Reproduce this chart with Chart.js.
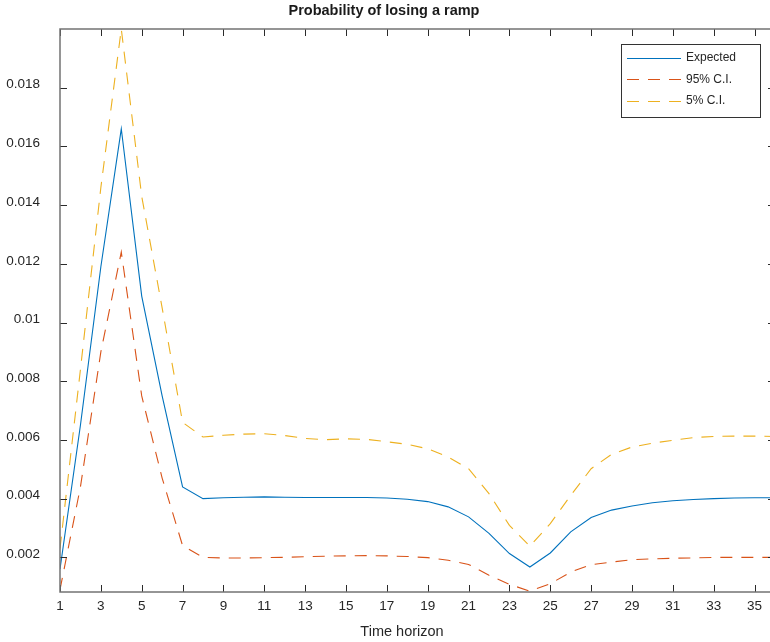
<!DOCTYPE html>
<html>
<head>
<meta charset="utf-8">
<script src="https://cdn.jsdelivr.net/npm/chart.js@4/dist/chart.umd.min.js"></script>
<style>
  html, body { margin: 0; padding: 0; background: #fff; overflow: hidden; }
  #wrap { width: 780px; height: 642px; }
</style>
</head>
<body>
<div id="wrap"><canvas id="rampChart" width="780" height="642"></canvas></div>
<script>
const horizon = [1, 2, 3, 4, 5, 6, 7, 8, 9, 10, 11, 12, 13, 14, 15, 16, 17, 18,
  19, 20, 21, 22, 23, 24, 25, 26, 27, 28, 29, 30, 31, 32, 33, 34, 35, 36];

const expected = [0.0016, 0.0065, 0.0119, 0.0166, 0.0109, 0.0075, 0.0044, 0.0040,
  0.00403, 0.00405, 0.00406, 0.00405, 0.00404, 0.00404, 0.00404, 0.00404, 0.00402, 0.00398,
  0.0039, 0.00372, 0.00338, 0.00282, 0.00213, 0.00167, 0.00215, 0.00287, 0.00336,
  0.00361, 0.00375, 0.00386, 0.00393, 0.00397, 0.004, 0.00402, 0.00403, 0.00403];

const ci95 = [0.0009, 0.0044, 0.0090, 0.0124, 0.0075, 0.0047, 0.0024, 0.0020,
  0.00198, 0.00198, 0.00199, 0.002, 0.00202, 0.00204, 0.00205, 0.00206, 0.00205, 0.00203,
  0.00199, 0.0019, 0.00176, 0.00139, 0.00108, 0.00085, 0.0011, 0.0015, 0.00175,
  0.00184, 0.00192, 0.00195, 0.00197, 0.00198, 0.002, 0.002, 0.002, 0.002];

const ci5 = [0.0023, 0.0084, 0.0146, 0.0200, 0.0143, 0.0105, 0.0066, 0.0061,
  0.00616, 0.0062, 0.00621, 0.00615, 0.00605, 0.00601, 0.00604, 0.00602, 0.00594, 0.00585,
  0.0057, 0.00542, 0.00502, 0.00417, 0.00309, 0.00238, 0.00315, 0.00411, 0.00502,
  0.00551, 0.00576, 0.00589, 0.00599, 0.00608, 0.00612, 0.00613, 0.00613, 0.00612];

const xTicks = [1, 3, 5, 7, 9, 11, 13, 15, 17, 19, 21, 23, 25, 27, 29, 31, 33, 35];
const yTicks = [0.002, 0.004, 0.006, 0.008, 0.01, 0.012, 0.014, 0.016, 0.018];

const FONT = "'Liberation Sans', Arial, Helvetica, sans-serif";

const toPoints = (vals) => vals.map((v, i) => ({ x: horizon[i], y: v }));

// box, inward ticks, legend and labels, matlab style
const matlabFrame = {
  id: "matlabFrame",
  afterDraw(chart) {
    const { ctx, chartArea: a, scales } = chart;
    const tl = 7;
    ctx.save();
    ctx.strokeStyle = "#2b2b2b";
    ctx.lineWidth = 1;
    ctx.beginPath();
    xTicks.forEach((t) => {
      const px = Math.round(scales.x.getPixelForValue(t)) + 0.5;
      ctx.moveTo(px, a.bottom); ctx.lineTo(px, a.bottom - tl);
      ctx.moveTo(px, a.top); ctx.lineTo(px, a.top + tl);
    });
    yTicks.forEach((t) => {
      const py = Math.round(scales.y.getPixelForValue(t)) + 0.5;
      ctx.moveTo(a.left, py); ctx.lineTo(a.left + tl, py);
      ctx.moveTo(a.right, py); ctx.lineTo(a.right - tl, py);
    });
    ctx.stroke();

    ctx.strokeStyle = "#737373";
    ctx.lineWidth = 1.5;
    ctx.strokeRect(a.left, a.top, a.right - a.left, a.bottom - a.top);

    // legend
    const lx = 621, ly = 44, lw = 139, lh = 73;
    ctx.fillStyle = "#fff";
    ctx.fillRect(lx, ly, lw, lh);
    ctx.strokeStyle = "#333";
    ctx.lineWidth = 1;
    ctx.strokeRect(lx + 0.5, ly + 0.5, lw, lh);
    ctx.font = "12px " + FONT;
    ctx.textBaseline = "middle";
    ctx.textAlign = "left";
    chart.data.datasets.forEach((ds, i) => {
      const cy = ly + 13.5 + i * 21.7;
      ctx.strokeStyle = ds.borderColor;
      ctx.lineWidth = 1;
      ctx.setLineDash(ds.borderDash || []);
      ctx.beginPath();
      ctx.moveTo(lx + 6, Math.round(cy) + 0.5);
      ctx.lineTo(lx + 60, Math.round(cy) + 0.5);
      ctx.stroke();
      ctx.setLineDash([]);
      ctx.fillStyle = "#262626";
      ctx.fillText(ds.label, lx + 65, cy);
    });

    // title and axis label
    ctx.fillStyle = "#1a1a1a";
    ctx.textAlign = "center";
    ctx.font = "bold 14.5px " + FONT;
    ctx.fillText("Probability of losing a ramp", 384, 11);
    ctx.fillStyle = "#262626";
    ctx.font = "14.5px " + FONT;
    ctx.fillText("Time horizon", 402, 632);
    ctx.restore();
  },
};

new Chart(document.getElementById("rampChart"), {
  type: "line",
  data: {
    datasets: [
      {
        label: "Expected",
        data: toPoints(expected),
        borderColor: "#0072BD",
        borderWidth: 1.1,
      },
      {
        label: "95% C.I.",
        data: toPoints(ci95),
        borderColor: "#D95319",
        borderWidth: 1.1,
        borderDash: [12, 9],
      },
      {
        label: "5% C.I.",
        data: toPoints(ci5),
        borderColor: "#EDB120",
        borderWidth: 1.1,
        borderDash: [12, 9],
      },
    ],
  },
  options: {
    responsive: false,
    animation: false,
    layout: { padding: { left: 0, right: 5, top: 29, bottom: 0 } },
    elements: { point: { radius: 0 }, line: { tension: 0 } },
    plugins: { legend: { display: false }, tooltip: { enabled: false } },
    scales: {
      x: {
        type: "linear",
        min: 1,
        max: 36,
        afterBuildTicks: (s) => { s.ticks = xTicks.map((v) => ({ value: v })); },
        afterFit: (s) => { s.height = 50; },
        grid: { display: false, drawTicks: false },
        border: { display: false },
        ticks: {
          padding: 6,
          color: "#262626",
          font: { family: FONT, size: 13.5 },
          maxRotation: 0,
          autoSkip: false,
        },
      },
      y: {
        min: 0.00082,
        max: 0.02,
        afterBuildTicks: (s) => { s.ticks = yTicks.map((v) => ({ value: v })); },
        afterFit: (s) => { s.width = 60; },
        grid: { display: false, drawTicks: false },
        border: { display: false },
        ticks: {
          padding: 20,
          labelOffset: -3,
          color: "#262626",
          font: { family: FONT, size: 13.5 },
          autoSkip: false,
          callback: (v) => String(+Number(v).toFixed(3)),
        },
      },
    },
  },
  plugins: [matlabFrame],
});
</script>
</body>
</html>
